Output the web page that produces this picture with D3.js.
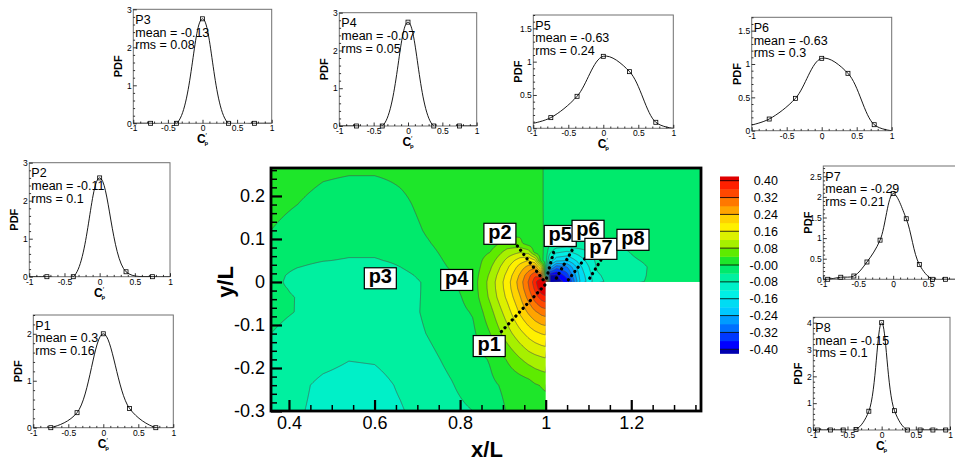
<!DOCTYPE html>
<html>
<head>
<meta charset="utf-8">
<script src="https://cdn.jsdelivr.net/npm/d3@7"></script>
<style>
body { margin: 0; background: #fff; }
text { font-family: "Liberation Sans", Arial, Helvetica, sans-serif; }
</style>
</head>
<body>
<svg id="fig" width="955" height="462"></svg>
<script>
// ---- contour field: Cp' on a non-uniform grid ----
var gridX = [0.358, 0.42, 0.48, 0.54, 0.60, 0.66, 0.72, 0.78, 0.83, 0.87, 0.91, 0.94, 0.96, 0.975, 0.99,
             1.00, 1.01, 1.025, 1.05, 1.08, 1.12, 1.17, 1.22, 1.28, 1.363];
var gridY = [-0.30, -0.24, -0.18, -0.12, -0.07, -0.035, -0.015, 0, 0.015, 0.035, 0.05, 0.07, 0.09, 0.12, 0.18, 0.265];
// rows follow gridY, columns follow gridX (cells inside the body, x>1 y<0, are hidden)
var cpField = [
  [-0.06,-0.076,-0.09,-0.096,-0.095,-0.083,-0.066,-0.05,-0.04,-0.02,0.002,0.01,0.014,0.017,0.022,0.025, 0,0,0,0,0,0,0,0,0],
  [-0.058,-0.072,-0.088,-0.094,-0.092,-0.076,-0.058,-0.042,-0.025,-0.008,0.008,0.015,0.022,0.036,0.042,0.045, 0,0,0,0,0,0,0,0,0],
  [-0.05,-0.06,-0.07,-0.079,-0.077,-0.066,-0.05,-0.032,-0.015,0.003,0.043,0.076,0.095,0.104,0.111,0.115, 0,0,0,0,0,0,0,0,0],
  [-0.04,-0.05,-0.06,-0.066,-0.066,-0.058,-0.04,-0.022,-0.008,0.039,0.102,0.147,0.174,0.19,0.201,0.205, 0,0,0,0,0,0,0,0,0],
  [-0.033,-0.041,-0.055,-0.062,-0.063,-0.056,-0.035,-0.015,0.003,0.066,0.141,0.207,0.247,0.274,0.293,0.30, 0,0,0,0,0,0,0,0,0],
  [-0.032,-0.041,-0.056,-0.062,-0.062,-0.055,-0.036,-0.014,0.016,0.088,0.169,0.237,0.295,0.34,0.378,0.39, 0,0,0,0,0,0,0,0,0],
  [-0.032,-0.045,-0.058,-0.062,-0.062,-0.056,-0.036,-0.008,0.019,0.093,0.178,0.254,0.316,0.369,0.436,0.46, 0,0,0,0,0,0,0,0,0],
  [-0.03,-0.052,-0.06,-0.062,-0.062,-0.056,-0.036,-0.005,0.02,0.094,0.181,0.26,0.324,0.384,0.467,0.5, -0.44,-0.42,-0.39,-0.2,-0.09,-0.06,-0.043,-0.025,-0.02],
  [-0.028,-0.05,-0.058,-0.06,-0.06,-0.052,-0.03,-0.003,0.018,0.087,0.172,0.247,0.306,0.355,0.33,-0.05, -0.41,-0.41,-0.34,-0.19,-0.085,-0.058,-0.045,-0.025,-0.02],
  [-0.025,-0.039,-0.047,-0.05,-0.049,-0.04,-0.02,0.004,0.015,0.073,0.152,0.217,0.254,0.265,0.142,-0.02, -0.22,-0.30,-0.28,-0.17,-0.075,-0.055,-0.046,-0.025,-0.02],
  [-0.02,-0.033,-0.039,-0.042,-0.042,-0.036,-0.016,0.008,0.018,0.059,0.131,0.181,0.20,0.166,0.01,-0.018, -0.13,-0.19,-0.20,-0.14,-0.07,-0.052,-0.04,-0.024,-0.02],
  [-0.015,-0.025,-0.032,-0.036,-0.036,-0.032,-0.01,0.012,0.02,0.039,0.095,0.115,0.098,0.022,0.012,-0.016, -0.07,-0.11,-0.125,-0.10,-0.065,-0.048,-0.032,-0.022,-0.02],
  [-0.008,-0.024,-0.03,-0.034,-0.034,-0.028,-0.004,0.016,0.021,0.022,0.053,0.048,0.02,0.018,0.012,-0.015, -0.035,-0.042,-0.045,-0.044,-0.04,-0.034,-0.028,-0.022,-0.02],
  [0,-0.02,-0.025,-0.03,-0.03,-0.02,0.003,0.02,0.022,0.025,0.03,0.03,0.025,0.02,0.012,-0.015, -0.025,-0.028,-0.03,-0.03,-0.028,-0.026,-0.024,-0.022,-0.02],
  [0.015,0,-0.02,-0.03,-0.03,-0.01,0.012,0.02,0.022,0.022,0.022,0.022,0.022,0.02,0.01,-0.015, -0.02,-0.02,-0.02,-0.02,-0.02,-0.02,-0.02,-0.02,-0.02],
  [0.03,0.025,0.012,0.008,0.008,0.012,0.02,0.025,0.025,0.025,0.025,0.02,0.02,0.015,0.01,-0.015, -0.02,-0.02,-0.02,-0.02,-0.02,-0.02,-0.02,-0.02,-0.02]
];
var levels = d3.range(21).map(function (i) { return Math.round((-0.40 + 0.04 * i) * 100) / 100; });

// probe rays (from the corner) and where their tags sit, data units
var probeTags = ["p1", "p2", "p3", "p4", "p5", "p6", "p7", "p8"];
var tagX = [0.868, 0.893, 0.6135, 0.792, 1.034, 1.099, 1.129, 1.204];
var tagY = [-0.149, 0.112, 0.0086, 0.0047, 0.107, 0.119, 0.077, 0.098];
var rayFrom = [[0.998, -0.007], [0.994, 0.005], null, null, [1.002, 0.009], [1.025, 0.009], [1.053, 0.005], [1.103, 0.009]];
var rayTo = [[0.893, -0.119], [0.932, 0.086], null, null, [1.021, 0.078], [1.064, 0.078], [1.092, 0.055], [1.134, 0.059]];

// ---- PDF insets ----
var pdfBins = [-1, -0.75, -0.375, 0, 0.375, 0.75, 1];
var pdfBinsFine = [-1, -0.9375, -0.75, -0.5625, -0.375, -0.1875, 0, 0.1875, 0.375, 0.5625, 0.75, 0.9375, 1];
var pdfP1 = [0, 0, 0.32, 2.0, 0.41, 0, 0];
var pdfP2 = [0, 0, 0, 2.6, 0.13, 0, 0];
var pdfP3 = [0, 0, 0, 2.75, 0, 0, 0];
var pdfP4 = [0, 0, 0, 2.75, 0, 0, 0];
var pdfP5 = [0.075, 0.16, 0.48, 1.08, 0.85, 0.09, 0];
var pdfP6 = [0.085, 0.175, 0.485, 1.085, 0.86, 0.09, 0];
var pdfP7 = [0, 0, 0.05, 0.08, 0.42, 0.95, 2.08, 1.47, 0.36, 0, 0, 0, 0];
var pdfP8 = [0, 0, 0, 0, 0.02, 0.7, 4.0, 0.72, 0, 0, 0, 0, 0];
var probeNames = ["P1", "P2", "P3", "P4", "P5", "P6", "P7", "P8"];
var probeMean = ["0.3", "-0.11", "-0.13", "-0.07", "-0.63", "-0.63", "-0.29", "-0.15"];
var probeRms = ["0.16", "0.1", "0.08", "0.05", "0.24", "0.3", "0.21", "0.1"];
var pdfYMax = [2.4, 3, 3, 3, 1.7, 1.7, 2.75, 4.2];
var pdfYStep = [1, 1, 1, 1, 0.5, 0.5, 0.5, 1];

var pdfSeries = [pdfP1, pdfP2, pdfP3, pdfP4, pdfP5, pdfP6, pdfP7, pdfP8];
// inset frames: left, top, right, bottom (px)
var panelBox = [
  [33.3, 315, 173.3, 427.7], [29.3, 162.7, 170, 276.7], [133.3, 9.3, 271.7, 123.3], [339.3, 12.7, 476.7, 126],
  [533.3, 15, 673.3, 128.3], [751.7, 17.3, 891.7, 130.7], [823.3, 166, 963, 279.3], [813.3, 317.3, 950, 430]
];

var svg = d3.select("#fig");

// ================= main contour plot =================
var mx = d3.scaleLinear().domain([0.358, 1.363]).range([271, 701]);
var my = d3.scaleLinear().domain([-0.3, 0.265]).range([411, 168]);

function fieldAt(x, y) {
  var i = Math.max(0, Math.min(gridX.length - 2, d3.bisectRight(gridX, x) - 1));
  var j = Math.max(0, Math.min(gridY.length - 2, d3.bisectRight(gridY, y) - 1));
  var tx = Math.max(0, Math.min(1, (x - gridX[i]) / (gridX[i + 1] - gridX[i])));
  var ty = Math.max(0, Math.min(1, (y - gridY[j]) / (gridY[j + 1] - gridY[j])));
  var a = cpField[j][i], b = cpField[j][i + 1], c = cpField[j + 1][i], d = cpField[j + 1][i + 1];
  return (1 - ty) * ((1 - tx) * a + tx * b) + ty * ((1 - tx) * c + tx * d);
}

var x0 = mx.range()[0], y0 = my.range()[1];
var nx = Math.round(mx.range()[1] - x0), ny = Math.round(my.range()[0] - y0);
var values = new Float64Array(nx * ny);
for (var j = 0; j < ny; j++) {
  for (var i = 0; i < nx; i++) {
    values[j * nx + i] = fieldAt(mx.invert(x0 + i + 0.5), my.invert(y0 + j + 0.5));
  }
}

// band colour, keyed by the band's middle value
var bandColor = d3.scaleLinear()
  .domain([-0.42, -0.38, -0.30, -0.22, -0.14, -0.10, -0.06, -0.02, 0.02, 0.06, 0.10, 0.14, 0.18, 0.22, 0.26, 0.30, 0.34, 0.38, 0.42])
  .range(["#0000b0", "#0000ff", "#0070ff", "#00c8ff", "#00f0e6", "#00f0c8", "#00f0a0", "#00ea6c", "#1ee62a",
          "#5eeb00", "#a6f000", "#dcf000", "#fff000", "#ffd200", "#ffa400", "#ff7800", "#ff4800", "#ff2000", "#e00000"])
  .clamp(true);

var sx = (mx.range()[1] - x0) / nx, sy = (my.range()[0] - y0) / ny;
var proj = d3.geoTransform({ point: function (px, py) { this.stream.point(x0 + px * sx, y0 + py * sy); } });
var path = d3.geoPath(proj);

var plot = svg.append("g");
plot.append("rect")
  .attr("x", x0).attr("y", y0).attr("width", nx).attr("height", ny)
  .attr("fill", bandColor(-0.42));

var bands = d3.contours().size([nx, ny]).thresholds(levels)(values);
plot.selectAll("path.band")
  .data(bands)
  .join("path")
  .attr("class", "band")
  .attr("d", path)
  .attr("fill", function (d) { return bandColor(d.value + 0.02); })
  .attr("stroke", "#4a4a4a")
  .attr("stroke-width", 0.6);

// the body (x > 1, y < 0) is blank
plot.append("rect")
  .attr("x", mx(1)).attr("y", my(0))
  .attr("width", mx(1.363) - mx(1) + 2).attr("height", my(-0.3) - my(0) + 2)
  .attr("fill", "#fff");

// probe rays
probeTags.forEach(function (t, k) {
  if (!rayFrom[k]) return;
  plot.append("line")
    .attr("x1", mx(rayFrom[k][0])).attr("y1", my(rayFrom[k][1]))
    .attr("x2", mx(rayTo[k][0])).attr("y2", my(rayTo[k][1]))
    .attr("stroke", "#000").attr("stroke-width", 3.2)
    .attr("stroke-linecap", "round")
    .attr("stroke-dasharray", "0.1 5.2");
});

// probe tags
probeTags.forEach(function (t, k) {
  var g = plot.append("g").attr("transform", "translate(" + mx(tagX[k]) + "," + my(tagY[k]) + ")");
  g.append("rect").attr("x", -16).attr("y", -10.5).attr("width", 32).attr("height", 21)
    .attr("fill", "#fff").attr("stroke", "#000").attr("stroke-width", 1.2);
  g.append("text").attr("text-anchor", "middle").attr("y", 5)
    .style("font-size", "20px").style("font-weight", "bold").text(t);
});

// frame
plot.append("rect")
  .attr("x", x0).attr("y", y0).attr("width", nx).attr("height", ny)
  .attr("fill", "none").attr("stroke", "#000").attr("stroke-width", 2.8);

// axes (ticks point inwards)
function styleAxis(g, size, width) {
  g.select(".domain").remove();
  g.attr("font-family", null).attr("font-size", null);
  g.selectAll(".tick line").attr("stroke", "#000").attr("stroke-width", width);
  g.selectAll(".tick text").attr("fill", "#000").style("font-size", size + "px");
}
var xMinor = d3.range(8, 28).filter(function (i) { return i % 4 !== 0; }).map(function (i) { return i * 0.05; });
var yMinor = d3.range(-15, 14).filter(function (i) { return i % 5 !== 0; }).map(function (i) { return i * 0.02; });

svg.append("g").attr("transform", "translate(0," + my(-0.3) + ")")
  .call(d3.axisBottom(mx).tickValues(xMinor).tickSize(-6).tickFormat(""))
  .call(styleAxis, 18, 1.5);
svg.append("g").attr("transform", "translate(0," + my(-0.3) + ")")
  .call(d3.axisBottom(mx).tickValues([0.4, 0.6, 0.8, 1, 1.2]).tickSize(-11).tickPadding(5).tickFormat(String))
  .call(styleAxis, 18, 2.2);
svg.append("g").attr("transform", "translate(" + x0 + ",0)")
  .call(d3.axisLeft(my).tickValues(yMinor).tickSize(-6).tickFormat(""))
  .call(styleAxis, 18, 1.5);
svg.append("g").attr("transform", "translate(" + x0 + ",0)")
  .call(d3.axisLeft(my).tickValues([-0.3, -0.2, -0.1, 0, 0.1, 0.2]).tickSize(-11).tickPadding(6).tickFormat(String))
  .call(styleAxis, 18, 2.2);

svg.append("text").attr("x", (mx.range()[0] + mx.range()[1]) / 2 + 1).attr("y", 457)
  .attr("text-anchor", "middle").style("font-size", "22px").style("font-weight", "bold").text("x/L");
svg.append("text").attr("transform", "translate(233," + my(0.0) + ") rotate(-90)")
  .attr("text-anchor", "middle").style("font-size", "22px").style("font-weight", "bold").text("y/L");

// ================= colour legend =================
var cb = d3.scaleLinear().domain([-0.40, 0.40]).range([349.3, 180.7]);
var legend = svg.append("g");
d3.range(22).forEach(function (k) {
  var lo = Math.round((-0.44 + 0.04 * k) * 100) / 100;
  var a = Math.max(lo, -0.42), b = Math.min(lo + 0.04, 0.42);
  legend.append("rect")
    .attr("x", 720).attr("width", 19)
    .attr("y", cb(b)).attr("height", cb(a) - cb(b) + 0.3)
    .attr("fill", bandColor(lo + 0.02));
});
levels.filter(function (v, i) { return i % 2 === 0; }).forEach(function (v) {
  legend.append("line").attr("x1", 720).attr("x2", 739).attr("y1", cb(v)).attr("y2", cb(v))
    .attr("stroke", "#000").attr("stroke-width", 0.8);
  legend.append("text").attr("x", 778).attr("y", cb(v) + 4.5).attr("text-anchor", "end")
    .style("font-size", "12.5px")
    .text(v <= 0 ? "-" + Math.abs(v).toFixed(2) : v.toFixed(2));
});

// ================= PDF insets =================
function drawPanel(k) {
  var b = panelBox[k];
  var series = pdfSeries[k];
  var bins = series.length === pdfBinsFine.length ? pdfBinsFine : pdfBins;
  var x = d3.scaleLinear().domain([-1, 1]).range([b[0], b[2]]);
  var y = d3.scaleLinear().domain([0, pdfYMax[k]]).range([b[3], b[1]]);
  var g = svg.append("g");

  g.append("clipPath").attr("id", "clip" + k).append("rect")
    .attr("x", b[0]).attr("y", b[1]).attr("width", b[2] - b[0]).attr("height", b[3] - b[1]);

  g.append("rect").attr("x", b[0]).attr("y", b[1]).attr("width", b[2] - b[0]).attr("height", b[3] - b[1])
    .attr("fill", "none").attr("stroke", "#707070").attr("stroke-width", 1);

  var step = pdfYStep[k];
  var yMaj = d3.range(0, pdfYMax[k] + 1e-9, step);
  var yMin = d3.range(0, pdfYMax[k] + 1e-9, step / 5).filter(function (v) {
    return Math.abs(v / step - Math.round(v / step)) > 1e-6;
  });
  // tick labels that would fall outside the figure are not shown
  var xMaj = [-1, -0.5, 0, 0.5, 1].filter(function (v) { return x(v) < 952; });
  var xMin = d3.range(-10, 11).filter(function (i) { return i % 5 !== 0; }).map(function (i) { return i / 10; });

  g.append("g").attr("transform", "translate(0," + b[3] + ")")
    .call(d3.axisBottom(x).tickValues(xMin).tickSize(-1.8).tickFormat(""))
    .call(styleAxis, 8.5, 0.8);
  g.append("g").attr("transform", "translate(0," + b[3] + ")")
    .call(d3.axisBottom(x).tickValues(xMaj).tickSize(-3.5).tickPadding(2).tickFormat(String))
    .call(styleAxis, 8.5, 0.8);
  g.append("g").attr("transform", "translate(" + b[0] + ",0)")
    .call(d3.axisLeft(y).tickValues(yMin).tickSize(-1.8).tickFormat(""))
    .call(styleAxis, 8.5, 0.8);
  g.append("g").attr("transform", "translate(" + b[0] + ",0)")
    .call(d3.axisLeft(y).tickValues(yMaj).tickSize(-3.5).tickPadding(1.5).tickFormat(String))
    .call(styleAxis, 8.5, 0.8);

  g.append("text").attr("transform", "translate(" + (b[0] - 15) + "," + (b[1] + b[3]) / 2 + ") rotate(-90)")
    .attr("text-anchor", "middle").attr("dy", "0.35em")
    .style("font-size", "11px").style("font-weight", "bold").text("PDF");

  var cx = x(0);
  if (k === 5 || k === 6) {
    g.append("text").attr("x", cx + 1).attr("y", b[3] + 12).attr("text-anchor", "middle")
      .style("font-size", "7px").text("\u2032");
  } else {
    var lab = g.append("text").attr("x", cx).attr("y", b[3] + 20).attr("text-anchor", "middle")
      .style("font-size", "12px").style("font-weight", "bold");
    lab.append("tspan").text("C");
    lab.append("tspan").attr("dy", -5).style("font-size", "7px").style("font-weight", "normal").text("\u2032");
    lab.append("tspan").attr("dx", -2.5).attr("dy", 7).style("font-size", "6px").text("p");
  }

  var info = [probeNames[k], "mean = " + probeMean[k], "rms = " + probeRms[k]];
  info.forEach(function (s, r) {
    g.append("text").attr("x", b[0] + 2).attr("y", b[1] + 14.5 + r * 12.8)
      .style("font-size", "12.5px").text(s);
  });

  var pts = bins.map(function (v, i) { return [v, series[i]]; });
  g.append("path")
    .attr("clip-path", "url(#clip" + k + ")")
    .attr("d", d3.line().x(function (d) { return x(d[0]); }).y(function (d) { return y(d[1]); })
      .curve(d3.curveCatmullRom.alpha(0.5))(pts))
    .attr("fill", "none").attr("stroke", "#000").attr("stroke-width", 0.9);

  g.selectAll("rect.mk")
    .data(pts.filter(function (d) { return Math.abs(d[0]) < 1; }))
    .join("rect").attr("class", "mk")
    .attr("x", function (d) { return x(d[0]) - 2; })
    .attr("y", function (d) { return y(d[1]) - 2; })
    .attr("width", 4).attr("height", 4)
    .attr("fill", "none").attr("stroke", "#000").attr("stroke-width", 0.8);
}
d3.range(8).forEach(drawPanel);
</script>
</body>
</html>
